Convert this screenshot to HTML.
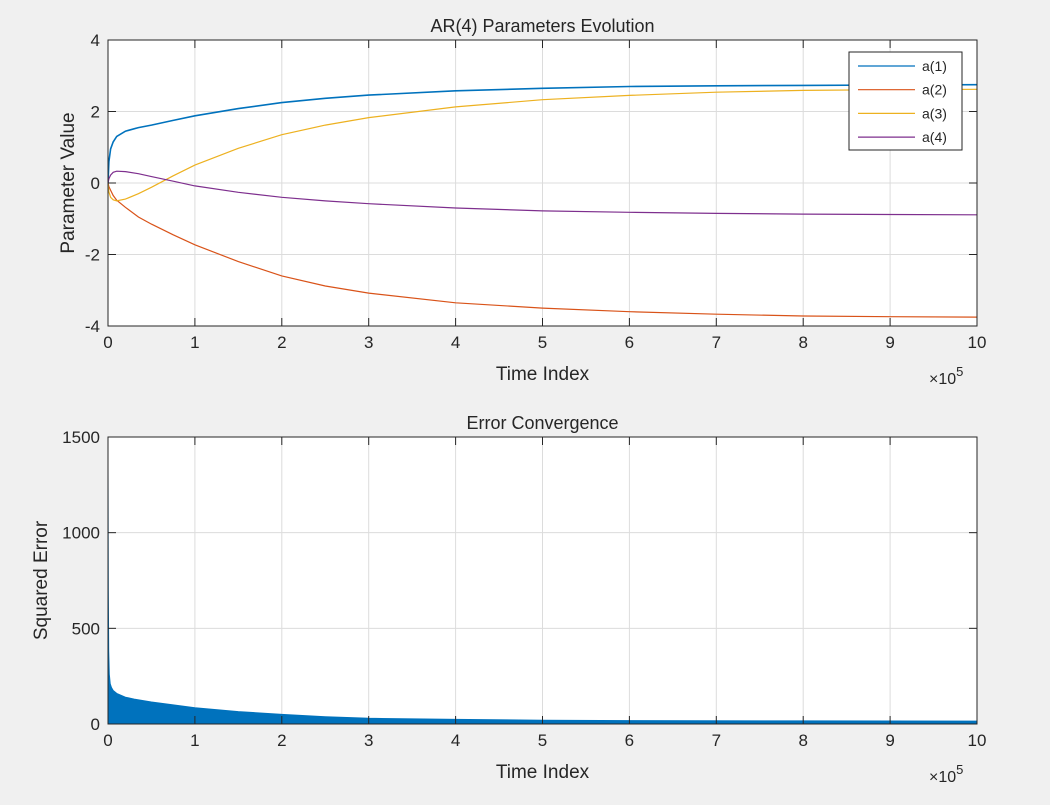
<!DOCTYPE html>
<html><head><meta charset="utf-8"><style>
body{margin:0;background:#f0f0f0;font-family:"Liberation Sans",sans-serif;}
svg text{font-family:"Liberation Sans",sans-serif;fill:#262626;}
</style></head><body>
<svg width="1050" height="800" xmlns="http://www.w3.org/2000/svg">
<rect width="1050" height="800" fill="#f0f0f0"/>
<g id="top"></g>
<g id="bot"></g>
</svg>
<script>
const tParams=[0,0.01,0.03,0.06,0.1,0.2,0.35,0.5,0.75,1,1.5,2,2.5,3,4,5,6,7,8,9,10];
const a1=[0,0.6,0.95,1.15,1.3,1.45,1.55,1.62,1.75,1.88,2.08,2.25,2.37,2.46,2.58,2.65,2.7,2.72,2.73,2.74,2.75];
const a2=[0,-0.1,-0.2,-0.35,-0.48,-0.68,-0.95,-1.15,-1.45,-1.73,-2.2,-2.6,-2.88,-3.08,-3.35,-3.5,-3.6,-3.67,-3.72,-3.74,-3.75];
const a3=[0,-0.25,-0.4,-0.47,-0.5,-0.45,-0.3,-0.12,0.2,0.5,0.97,1.35,1.62,1.83,2.13,2.33,2.45,2.54,2.59,2.61,2.62];
const a4=[0,0.12,0.22,0.3,0.33,0.32,0.26,0.18,0.05,-0.08,-0.26,-0.4,-0.5,-0.58,-0.7,-0.78,-0.82,-0.85,-0.87,-0.88,-0.89];
const tErr=[0,0.003,0.008,0.015,0.025,0.04,0.06,0.1,0.2,0.3,0.5,0.75,1,1.5,2,2.5,3,4,5,6,8,10];
const errEnv=[1350,700,380,260,210,190,175,160,140,130,115,100,85,65,50,38,30,24,20,18,16,15];
const xTicks=[0,1,2,3,4,5,6,7,8,9,10];
const yTicksTop=[-4,-2,0,2,4];
const yTicksBot=[0,500,1000,1500];
const seriesNames=['a(1)','a(2)','a(3)','a(4)'];
const colors=['#0072BD','#D95319','#EDB120','#7E2F8E'];

const NS='http://www.w3.org/2000/svg';
function mk(p,tag,at,txt){const e=document.createElementNS(NS,tag);for(const k in at)e.setAttribute(k,at[k]);if(txt!==undefined)e.textContent=txt;p.appendChild(e);return e;}
const X0=108,X1=977;
const sx=v=>X0+(v/10)*(X1-X0);

function axes(g,top,bot,ymin,ymax,yt,clipId){
  const sy=v=>bot-(v-ymin)/(ymax-ymin)*(bot-top);
  const bg=mk(g,'rect',{x:X0,y:top,width:X1-X0,height:bot-top,fill:'#fff'});
  
  
  xTicks.forEach(t=>{
    const l=mk(g,'line',{x1:sx(t),x2:sx(t),y1:top,y2:bot,stroke:'#dcdcdc','stroke-width':1});
    
  });
  yt.forEach(t=>{
    const l=mk(g,'line',{x1:X0,x2:X1,y1:sy(t),y2:sy(t),stroke:'#dcdcdc','stroke-width':1});
    
  });
  const cp=mk(g,'clipPath',{id:clipId});
  mk(cp,'rect',{x:X0,y:top,width:X1-X0,height:bot-top});
  return sy;
}
function frame(g,top,bot,yt,title,ylab,sy,ylx){
  const f=mk(g,'rect',{x:X0,y:top,width:X1-X0,height:bot-top,fill:'none',stroke:'#262626','stroke-width':1});
  
  xTicks.forEach(t=>{
    mk(g,'line',{x1:sx(t),x2:sx(t),y1:bot,y2:bot-8,stroke:'#262626'});
    mk(g,'line',{x1:sx(t),x2:sx(t),y1:top,y2:top+8,stroke:'#262626'});
    const tx=mk(g,'text',{x:sx(t),y:bot+22,'text-anchor':'middle','font-size':17},String(t));
    
  });
  yt.forEach(t=>{
    mk(g,'line',{x1:X0,x2:X0+8,y1:sy(t),y2:sy(t),stroke:'#262626'});
    mk(g,'line',{x1:X1,x2:X1-8,y1:sy(t),y2:sy(t),stroke:'#262626'});
    const tx=mk(g,'text',{x:X0-8,y:sy(t)+6,'text-anchor':'end','font-size':17},String(t));
    
  });
  const ti=mk(g,'text',{x:(X0+X1)/2,y:top-8,'text-anchor':'middle','font-size':18,'fill':'#000'},title);
  
  const xl=mk(g,'text',{x:(X0+X1)/2,y:bot+54,'text-anchor':'middle','font-size':19},'Time Index');
  
  const ex=mk(g,'text',{x:929,y:bot+58,'font-size':16},'×10');
  
  mk(ex,'tspan',{dy:-8,'font-size':13},'5');
  const yl=mk(g,'text',{x:0,y:0,'text-anchor':'middle','font-size':19,transform:`translate(${ylx},${(top+bot)/2}) rotate(-90)`},ylab);
  
}

// Top chart
const gt=document.getElementById('top');
const T0=40,T1=326;
const syT=axes(gt,T0,T1,-4,4,yTicksTop,'clipT');
[a1,a2,a3,a4].forEach((s,i)=>{
  const d=s.map((v,j)=>(j?'L':'M')+sx(tParams[j]).toFixed(1)+','+syT(v).toFixed(1)).join('');
  const p=mk(gt,'path',{d,fill:'none',stroke:colors[i],'stroke-width':i==0?1.6:1.2,'clip-path':'url(#clipT)'});
  
  
});
frame(gt,T0,T1,yTicksTop,'AR(4) Parameters Evolution','Parameter Value',syT,74);
const lg=mk(gt,'g',{});

mk(lg,'rect',{x:849,y:52,width:113,height:98,fill:'#fff',stroke:'#262626'});
seriesNames.forEach((n,i)=>{
  const y=66+i*23.7;
  const e=mk(lg,'g',{});
  
  mk(e,'line',{x1:858,x2:915,y1:y,y2:y,stroke:colors[i],'stroke-width':1.2});
  mk(e,'text',{x:922,y:y+5,'font-size':14,fill:'#000'},n);
});

// Bottom chart
const gb=document.getElementById('bot');
const B0=437,B1=724;
const syB=axes(gb,B0,B1,0,1500,yTicksBot,'clipB');
let d='M'+sx(0)+','+syB(0);
tErr.forEach((t,j)=>{d+='L'+sx(t).toFixed(1)+','+syB(errEnv[j]).toFixed(1);});
d+='L'+sx(10)+','+syB(0)+'Z';
const ar=mk(gb,'path',{d,fill:'#0072BD',stroke:'#0072BD','stroke-width':1,'clip-path':'url(#clipB)'});

frame(gb,B0,B1,yTicksBot,'Error Convergence','Squared Error',syB,47);
</script>
</body></html>
